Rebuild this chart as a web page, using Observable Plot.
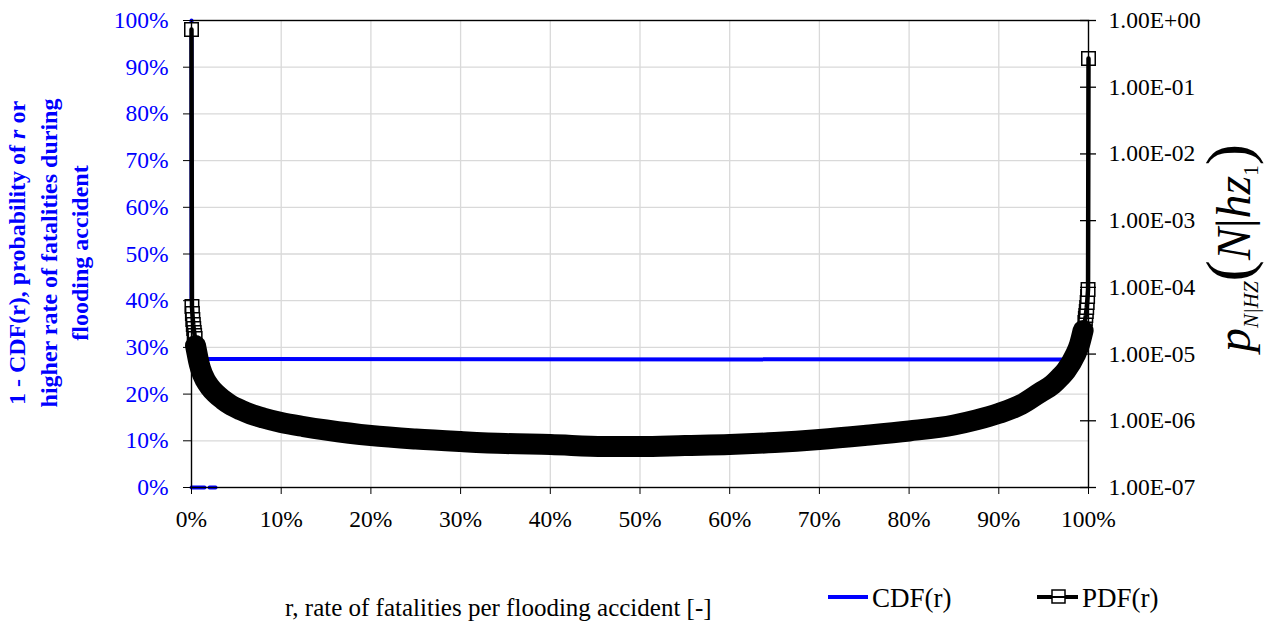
<!DOCTYPE html>
<html>
<head>
<meta charset="utf-8">
<script src="https://cdn.jsdelivr.net/npm/d3@7"></script>
<script src="https://cdn.jsdelivr.net/npm/@observablehq/plot@0.6"></script>
<style>
  html, body { margin: 0; padding: 0; background: #ffffff; }
  #chart { width: 1274px; height: 626px; }
</style>
</head>
<body>
<div id="chart"></div>
<script>
// ---- data ----
const xTickValues = [0, 0.1, 0.2, 0.3, 0.4, 0.5, 0.6, 0.7, 0.8, 0.9, 1.0];
const yTickValues = [0, 0.1, 0.2, 0.3, 0.4, 0.5, 0.6, 0.7, 0.8, 0.9, 1.0];
const rightTickValues = [1e-7, 1e-6, 1e-5, 1e-4, 1e-3, 1e-2, 1e-1, 1];
const rightTickLabels = ["1.00E-07", "1.00E-06", "1.00E-05", "1.00E-04", "1.00E-03", "1.00E-02", "1.00E-01", "1.00E+00"];

// 1 - CDF(r) (left axis); NaN breaks the line into separate pieces
const cdfR = [0, 0, NaN, 0, 0.0145, NaN, 0.0201, 0.0268, NaN, 0.013, 0.985];
const cdfV = [1.0, 0.30, NaN, 0, 0, NaN, 0, 0, NaN, 0.275, 0.274];

// PDF(r) (right log axis)
const pdfR = [0, 0.0005, 0.001, 0.0015, 0.002, 0.0025, 0.003, 0.0035, 0.004, 0.0045,
  0.006, 0.008, 0.01, 0.0156, 0.02, 0.027, 0.035, 0.043, 0.055, 0.066, 0.08, 0.1, 0.125,
  0.15, 0.2, 0.25, 0.3, 0.35, 0.4, 0.46, 0.5, 0.55, 0.6, 0.65, 0.7, 0.75,
  0.8, 0.85, 0.875, 0.9, 0.925, 0.946, 0.96, 0.968, 0.975, 0.985, 0.99, 0.994,
  0.996, 0.9965, 0.997, 0.9975, 0.998, 0.9985, 0.999, 0.9995, 1];
const pdfV = [0.733, 5.16e-5, 4.06e-5, 3.30e-5, 2.77e-5, 2.42e-5, 2.11e-5, 1.90e-5, 1.71e-5, 1.34e-5,
  1.055e-5, 7.74e-6, 6.08e-6, 4.02e-6, 3.27e-6, 2.56e-6, 2.08e-6, 1.75e-6, 1.45e-6, 1.26e-6, 1.10e-6, 9.42e-7, 8.20e-7,
  7.28e-7, 6.01e-7, 5.33e-7, 4.89e-7, 4.56e-7, 4.41e-7, 4.11e-7, 4.11e-7, 4.26e-7, 4.41e-7, 4.72e-7, 5.24e-7, 6.01e-7,
  7.03e-7, 8.65e-7, 1.03e-6, 1.29e-6, 1.75e-6, 2.65e-6, 3.50e-6, 4.46e-6, 5.67e-6, 9.53e-6, 1.39e-5, 2.26e-5,
  2.97e-5, 3.41e-5, 3.79e-5, 4.35e-5, 4.99e-5, 5.93e-5, 7.29e-5, 9.29e-5, 0.269];

// ---- helpers ----
const LOG_MIN = -7, LOG_MAX = 0;
const toLin = v => (Math.log10(v) - LOG_MIN) / (LOG_MAX - LOG_MIN); // right log axis onto shared y
const pct = d => Math.round(d * 100) + "%";

const cdf = cdfR.map((r, i) => ({r, v: cdfV[i]}));
const pdf = pdfR.map((r, i) => ({r, v: pdfV[i], y: toLin(pdfV[i])}));
const pdfBand = pdf.filter(d => d.r >= 0.0045 && d.r <= 0.994);
const pdfMarkers = pdf.filter(d => d.r <= 0.004 || d.r >= 0.996);
const rightPos = rightTickValues.map(toLin);
const rightLabelMap = new Map(rightPos.map((p, i) => [p, rightTickLabels[i]]));

const FONT = "Liberation Serif, Times New Roman, serif";
const BLUE = "#0000ff";
const TICK_FS = 23.5;

const svg = Plot.plot({
  width: 1274,
  height: 626,
  marginLeft: 191,
  marginRight: 186,
  marginTop: 20,
  marginBottom: 139,
  x: {domain: [0, 1]},
  y: {domain: [0, 1]},
  style: {fontFamily: FONT, fontSize: TICK_FS + "px", background: "#ffffff", color: "#000"},
  marks: [
    Plot.gridX(xTickValues.filter(d => d > 0 && d < 1), {stroke: "#d9d9d9", strokeOpacity: 1, strokeWidth: 1.3}),
    Plot.gridY(yTickValues.filter(d => d > 0 && d < 1), {stroke: "#d9d9d9", strokeOpacity: 1, strokeWidth: 1.3}),
    Plot.line(cdf, {x: "r", y: "v", stroke: BLUE, strokeWidth: 4}),
    Plot.dot(pdfMarkers, {x: "r", y: "y", symbol: "square", r: 7.6, fill: "#ffffff", stroke: "#000", strokeWidth: 1.5}),
    Plot.line(pdf, {x: "r", y: "y", stroke: "#000", strokeWidth: 4.5}),
    Plot.line(pdfBand, {x: "r", y: "y", stroke: "#000", strokeWidth: 21, strokeLinecap: "round", strokeLinejoin: "round", curve: "monotone-x"}),
    Plot.frame({stroke: "#000", strokeWidth: 1.4}),
    Plot.axisY(yTickValues, {anchor: "left", tickSize: 8, tickPadding: 15, tickFormat: pct, fill: BLUE, stroke: "#000", label: null, fontSize: TICK_FS}),
    Plot.axisX(xTickValues, {anchor: "bottom", tickSize: 7, tickPadding: 16, tickFormat: pct, fill: "#000", stroke: "#000", label: null, fontSize: TICK_FS}),
    Plot.ruleY(rightPos, {x1: 1, x2: 1, insetLeft: -8, insetRight: -8, stroke: "#000", strokeWidth: 1.3}),
    Plot.axisY(rightPos, {anchor: "right", tickSize: 0, tickPadding: 20, tickFormat: d => rightLabelMap.get(d), fill: "#000", label: null, fontSize: TICK_FS})
  ]
});

document.getElementById("chart").appendChild(svg);
const s = d3.select(svg);

// left axis title (rotated, bold, blue, three lines)
const leftLines = [
  [["1 - CDF(r), probability of ", "normal"], ["r", "italic"], [" or", "normal"]],
  [["higher rate of fatalities during", "normal"]],
  [["flooding accident", "normal"]]
];
const leftBase = [25, 57, 88];
leftLines.forEach((parts, i) => {
  const t = s.append("text")
    .attr("transform", `translate(${leftBase[i]},253) rotate(-90)`)
    .attr("text-anchor", "middle")
    .attr("font-family", FONT)
    .attr("font-weight", "bold")
    .attr("font-size", 24)
    .attr("fill", BLUE);
  parts.forEach(([txt, st]) => t.append("tspan").attr("font-style", st).text(txt));
});

// right axis title: p_{N|HZ}(N|hz_1)
const rt = s.append("text")
  .attr("transform", "translate(1250,248) rotate(-90)")
  .attr("text-anchor", "middle")
  .attr("font-family", FONT)
  .attr("fill", "#000");
rt.append("tspan").attr("font-style", "italic").attr("font-size", 48).text("p");
rt.append("tspan").attr("font-style", "italic").attr("font-size", 21).attr("dy", 8).text("N|HZ");
rt.append("tspan").attr("font-size", 64).attr("dy", -8).text("(");
rt.append("tspan").attr("font-style", "italic").attr("font-size", 48).text("N");
rt.append("tspan").attr("font-size", 48).text("|");
rt.append("tspan").attr("font-style", "italic").attr("font-size", 48).text("hz");
rt.append("tspan").attr("font-size", 21).attr("dy", 8).text("1");
rt.append("tspan").attr("font-size", 64).attr("dy", -8).text(")");

// x axis title
s.append("text")
  .attr("x", 285).attr("y", 616)
  .attr("text-anchor", "start")
  .attr("font-family", FONT).attr("font-size", 25).attr("fill", "#000")
  .text("r, rate of fatalities per flooding accident [-]");

// legend
const lg = s.append("g").attr("text-anchor", "start");
lg.append("line").attr("x1", 828).attr("x2", 868).attr("y1", 597).attr("y2", 597)
  .attr("stroke", BLUE).attr("stroke-width", 4);
lg.append("text").attr("x", 872).attr("y", 607).attr("font-family", FONT).attr("font-size", 27)
  .attr("fill", "#000").text("CDF(r)");
lg.append("line").attr("x1", 1037).attr("x2", 1078).attr("y1", 597).attr("y2", 597)
  .attr("stroke", "#000").attr("stroke-width", 4);
lg.append("rect").attr("x", 1052).attr("y", 590).attr("width", 13).attr("height", 13)
  .attr("fill", "#ffffff").attr("stroke", "#000").attr("stroke-width", 1.5);
lg.append("line").attr("x1", 1052).attr("x2", 1065).attr("y1", 597).attr("y2", 597)
  .attr("stroke", "#000").attr("stroke-width", 2);
lg.append("text").attr("x", 1082).attr("y", 607).attr("font-family", FONT).attr("font-size", 27)
  .attr("fill", "#000").text("PDF(r)");
</script>
</body>
</html>
